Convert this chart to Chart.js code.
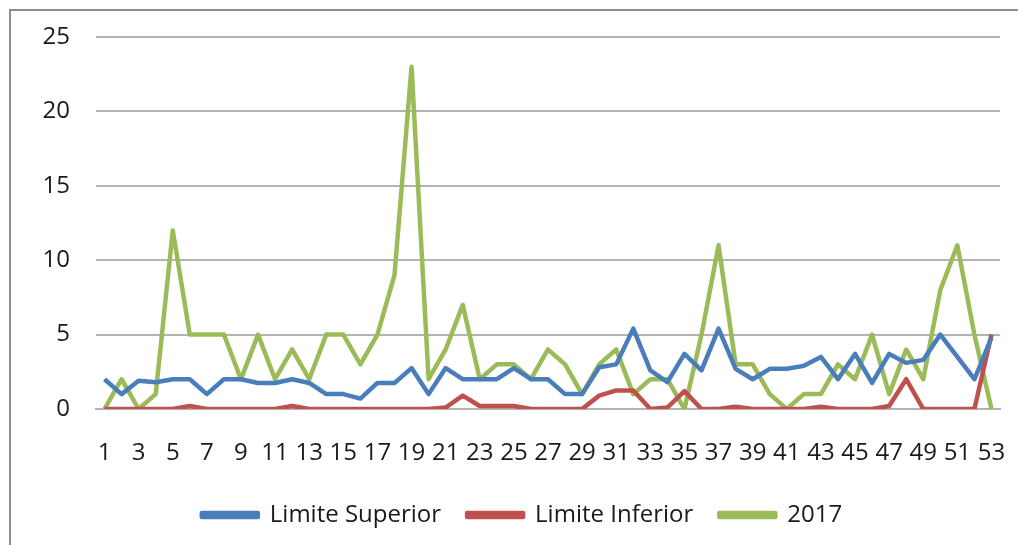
<!DOCTYPE html>
<html>
<head>
<meta charset="utf-8">
<script src="https://cdn.jsdelivr.net/npm/chart.js@4.4.1/dist/chart.umd.min.js"></script>
<style>
  html, body { margin: 0; padding: 0; background: #fff; }
  #wrap { position: relative; width: 1018px; height: 545px; overflow: hidden; }
  #frame { position: absolute; left: 9px; top: 9px; width: 1030px; height: 560px;
           border-left: 2px solid #8e8e8e; border-top: 2px solid #8e8e8e; }
  #myChart { position: absolute; left: 0; top: 0; }
</style>
</head>
<body>
<div id="wrap">
  <div id="frame"></div>
  <canvas id="myChart" width="1018" height="545"></canvas>
</div>
<script>
// semanas epidemiologicas
const weeks = ['1','2','3','4','5','6','7','8','9','10','11','12','13','14','15','16','17','18','19','20',
  '21','22','23','24','25','26','27','28','29','30','31','32','33','34','35','36','37','38','39','40',
  '41','42','43','44','45','46','47','48','49','50','51','52','53']

const limiteSuperior = [2, 1, 1.9, 1.8, 2, 2, 1, 2, 2, 1.75, 1.75, 2, 1.75, 1, 1, 0.7, 1.75, 1.75, 2.75, 1,
  2.75, 2, 2, 2, 2.75, 2, 2, 1, 1, 2.8, 3, 5.4, 2.6, 1.8, 3.7, 2.6, 5.4, 2.7, 2, 2.7,
  2.7, 2.9, 3.5, 2, 3.7, 1.75, 3.7, 3.1, 3.3, 5, 3.5, 2, 4.8]

const limiteInferior = [0, 0, 0, 0, 0, 0.2, 0, 0, 0, 0, 0, 0.2, 0, 0, 0, 0, 0, 0, 0, 0,
  0.1, 0.9, 0.2, 0.2, 0.2, 0, 0, 0, 0, 0.9, 1.25, 1.25, 0, 0.1, 1.2, 0, 0, 0.15, 0, 0,
  0, 0, 0.15, 0, 0, 0, 0.2, 2, 0, 0, 0, 0, 5]

const casos2017 = [0, 2, 0, 1, 12, 5, 5, 5, 2, 5, 2, 4, 2, 5, 5, 3, 5, 9, 23, 2,
  4, 7, 2, 3, 3, 2, 4, 3, 1, 3, 4, 1, 2, 2, 0, 5, 11, 3, 3, 1,
  0, 1, 1, 3, 2, 5, 1, 4, 2, 8, 11, 5, 0]

const yTicks = [0, 5, 10, 15, 20, 25]

const font = { family: "'Open Sans', sans-serif", size: 24 }

const serie = (label, color, data) => ({
  label: label,
  data: data,
  borderColor: color,
  backgroundColor: color,
  borderWidth: 4.5,
  borderJoinStyle: 'round',
  pointRadius: 0,
  tension: 0
})

// la leyenda del original esta corrida a la derecha
const moverLeyenda = {
  id: 'moverLeyenda',
  afterLayout: (chart) => {
    chart.legend.left += 22
    chart.legend.right += 22
  }
}

var ctx = document.getElementById('myChart')
let chart = new Chart(ctx, {
  type: 'line',
  data: {
    labels: weeks,
    datasets: [
      serie('Limite Superior', '#4a7ebb', limiteSuperior),
      serie('Limite Inferior', '#c0504d', limiteInferior),
      serie('2017', '#9bbb59', casos2017)
    ]
  },
  plugins: [moverLeyenda],
  options: {
    responsive: false,
    animation: false,
    devicePixelRatio: 1,
    layout: { padding: { top: 37, right: 18, left: 0, bottom: 8 } },
    plugins: {
      tooltip: { enabled: false },
      legend: {
        position: 'bottom',
        labels: {
          color: '#1a1a1a',
          font: font,
          boxWidth: 56,
          boxHeight: 4,
          padding: 26
        }
      }
    },
    scales: {
      x: {
        offset: true,
        grid: { display: false, drawTicks: false },
        border: { color: '#b3b3b3', width: 2 },
        afterFit: (scale) => {
          scale.height = 68
          scale.paddingLeft = 0
          scale.paddingRight = 0
        },
        ticks: {
          color: '#1a1a1a',
          font: font,
          padding: 30,
          autoSkip: false,
          maxRotation: 0,
          callback: function (value, index) {
            return index % 2 === 0 ? weeks[index] : ''
          }
        }
      },
      y: {
        min: 0,
        max: 25,
        afterFit: (scale) => {
          scale.width = 96
          scale.paddingTop = 0
          scale.paddingBottom = 0
        },
        afterBuildTicks: (scale) => { scale.ticks = yTicks.map(v => ({ value: v })) },
        grid: { color: '#b3b3b3', lineWidth: 2, drawTicks: false },
        border: { display: false },
        ticks: { color: '#1a1a1a', font: font, padding: 26 }
      }
    }
  }
})
</script>
</body>
</html>
